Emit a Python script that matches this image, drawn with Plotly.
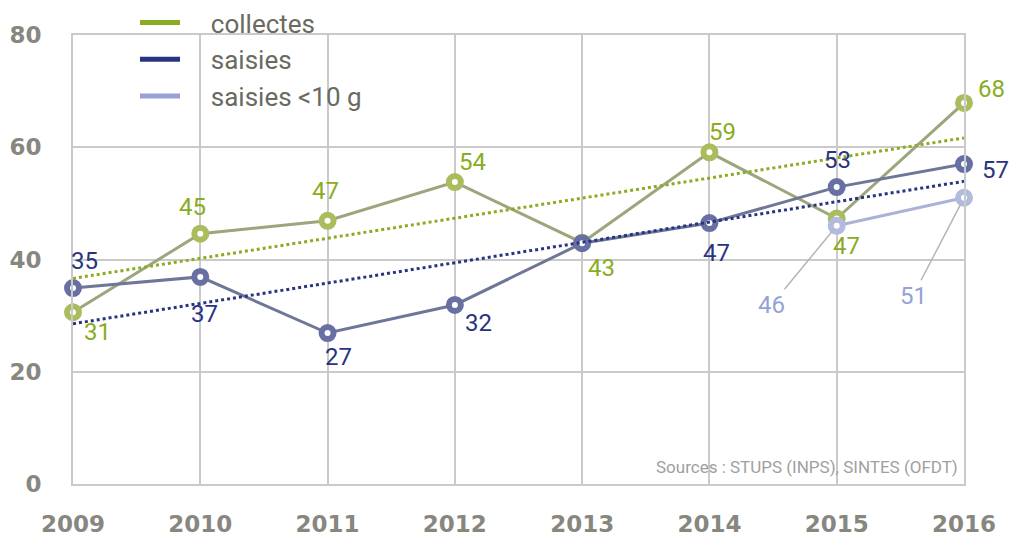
import numpy as np
import plotly.graph_objects as go

years = [2009, 2010, 2011, 2012, 2013, 2014, 2015, 2016]
collectes = [30.6, 44.6, 46.9, 53.8, 43.0, 59.1, 47.3, 67.9]
collectes_labels = ["31", "45", "47", "54", "43", "59", "47", "68"]
saisies = [34.9, 36.9, 26.9, 31.9, 42.9, 46.5, 52.9, 57.0]
saisies_labels = ["35", "37", "27", "32", "", "47", "53", "57"]
petites_years = [2015, 2016]
petites = [46.0, 51.0]
petites_labels = ["46", "51"]
legend_names = ["collectes", "saisies", "saisies <10 g"]

GREEN = "#8aac22"
NAVY = "#28347f"
LIGHT = "#94a2d6"
LABEL_FONT = "Roboto, sans-serif"

fig = go.Figure()

# séries
fig.add_trace(go.Scatter(
    x=years, y=collectes, mode="lines+markers", showlegend=False,
    line=dict(color="#9ca67c", width=3),
    marker=dict(size=12, color="white", line=dict(color="#a9bd5c", width=6)),
    cliponaxis=False,
))
fig.add_trace(go.Scatter(
    x=years, y=saisies, mode="lines+markers", showlegend=False,
    line=dict(color="#6f7799", width=3),
    marker=dict(size=12, color="white", line=dict(color="#6870a3", width=6)),
    cliponaxis=False,
))
fig.add_trace(go.Scatter(
    x=petites_years, y=petites, mode="lines+markers", showlegend=False,
    line=dict(color="#aab2d6", width=3),
    marker=dict(size=12, color="white", line=dict(color="#b2badd", width=6)),
    cliponaxis=False,
))

# tendances linéaires (moindres carrés sur les valeurs affichées)
xs = np.array(years, dtype=float) - 2009
c_fit = np.polyfit(xs, np.array(collectes), 1)
s_fit = np.polyfit(xs, np.array(saisies), 1)
ends = np.array([2009, 2016], dtype=float)
fig.add_trace(go.Scatter(
    x=ends, y=np.polyval(c_fit, ends - 2009), mode="lines", showlegend=False,
    line=dict(color=GREEN, width=3, dash="dot"), hoverinfo="skip",
))
fig.add_trace(go.Scatter(
    x=ends, y=np.polyval(s_fit, ends - 2009), mode="lines", showlegend=False,
    line=dict(color=NAVY, width=3, dash="dot"), hoverinfo="skip",
))

# légende (traits seuls)
for i, (name, col) in enumerate(zip(legend_names, [GREEN, NAVY, LIGHT])):
    fig.add_trace(go.Scatter(
        x=[None], y=[None], mode="lines", name="\u00a0" * 4 + name, legendgroup=str(i),
        line=dict(color=col, width=5),
    ))

# étiquettes
c_off = [(24, -20), (-8, 27), (-2, 30), (18, 20), (19, -25), (13, 20), (10, -27), (27, 14)]
s_off = [(11, 27), (4, -37), (11, -24), (24, -18), (0, 0), (7, -30), (1, 27), (31, -6)]
for x, y, t, (dx, dy) in zip(years, collectes, collectes_labels, c_off):
    fig.add_annotation(x=x, y=y, text=t, showarrow=False, xshift=dx, yshift=dy,
                       font=dict(family=LABEL_FONT, size=24, color=GREEN))
for x, y, t, (dx, dy) in zip(years, saisies, saisies_labels, s_off):
    if t:
        fig.add_annotation(x=x, y=y, text=t, showarrow=False, xshift=dx, yshift=dy,
                           font=dict(family=LABEL_FONT, size=24, color=NAVY))
p_off = [(-65, 79), (-51, 98)]
for x, y, t, (dx, dy) in zip(petites_years, petites, petites_labels, p_off):
    fig.add_annotation(x=x, y=y, text=t, showarrow=True, ax=dx, ay=dy,
                       arrowhead=0, arrowwidth=1.5, arrowcolor="#b5b5b5", standoff=8,
                       font=dict(family=LABEL_FONT, size=24, color=LIGHT))

fig.add_annotation(
    x=1, y=0, xref="paper", yref="paper", xanchor="right", yanchor="bottom",
    xshift=-4, yshift=5, showarrow=False,
    text="Sources : STUPS (INPS), SINTES (OFDT)",
    font=dict(family=LABEL_FONT, size=17, color="#a0a0a0"),
)

tick_font = dict(family="DejaVu Sans", size=23, color="#878780", weight="bold")
axis_common = dict(showgrid=True, gridcolor="#cacaca", gridwidth=2, zeroline=False,
                   showline=True, linecolor="#cacaca", linewidth=2, mirror=True,
                   tickfont=tick_font)
# la page ajoute ~8 px de marge autour de la figure
fig.update_layout(
    width=1013, height=529,
    margin=dict(l=65, r=57, t=27, b=53, autoexpand=False),
    paper_bgcolor="white", plot_bgcolor="white",
    xaxis=dict(range=[2009, 2016], tickvals=years, ticklabelstandoff=18, **axis_common),
    yaxis=dict(range=[0, 80], tickvals=[0, 20, 40, 60, 80], ticklabelstandoff=25, **axis_common),
    legend=dict(
        x=0.0696, y=1.08, xanchor="left", yanchor="top", bgcolor="rgba(0,0,0,0)",
        font=dict(family=LABEL_FONT, size=26, color="#6a6a62"),
        tracegroupgap=0, itemwidth=40,
    ),
    showlegend=True,
)

fig.write_html("out.html")
